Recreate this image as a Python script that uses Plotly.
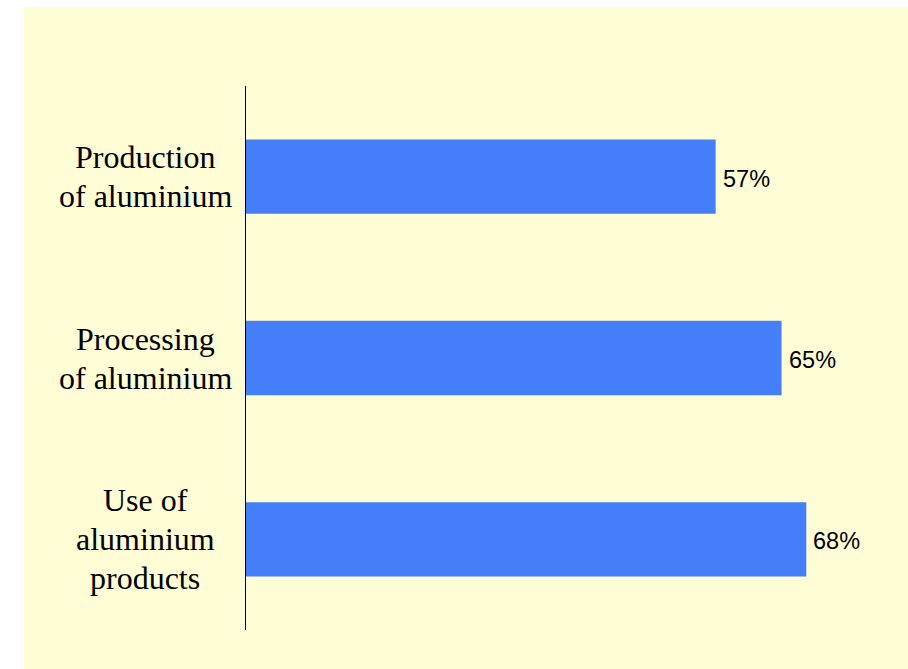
import plotly.graph_objects as go

# Shares per stage of the aluminium value chain
categories = ["Production<br>of aluminium", "Processing<br>of aluminium", "Use of<br>aluminium<br>products"]
shares = [57, 65, 68]
value_labels = ["57%", "65%", "68%"]

W, H = 908, 669
L, R, T, B = 246, 2, 86, 39
plot_w = W - L - R
plot_h = H - T - B

panel = "#FFFDD5"
bar_color = "#457EF9"
serif = "Liberation Serif, Times New Roman"
sans = "Liberation Sans, Arial"
line_gap = 39  # px between lines of a category label

fig = go.Figure(
    go.Bar(
        x=shares,
        y=categories,
        orientation="h",
        marker=dict(color=bar_color, line=dict(width=0)),
        cliponaxis=False,
        hoverinfo="x+y",
    )
)

# Value labels just beyond the bar ends
for cat, val, lab in zip(categories, shares, value_labels):
    fig.add_annotation(
        x=val, xref="x", xanchor="left", xshift=5,
        y=cat, yref="y", yanchor="middle", yshift=-2,
        text=lab, showarrow=False,
        font=dict(family=sans, size=23.5, color="black"),
    )

# Category labels, centred in the left margin, one annotation per line
for cat in categories:
    lines = cat.split("<br>")
    mid = (len(lines) - 1) / 2
    for i, line in enumerate(lines):
        fig.add_annotation(
            x=(145 - L) / plot_w, xref="paper", xanchor="center",
            y=cat, yref="y", yanchor="middle", yshift=(mid - i) * line_gap,
            text=line, showarrow=False,
            font=dict(family=serif, size=32, color="black"),
        )

# Pale yellow slide panel behind the chart
fig.add_shape(
    type="rect", xref="paper", yref="paper", layer="below",
    x0=(24 - L) / plot_w, x1=(W - L) / plot_w,
    y0=(plot_h - (H - T)) / plot_h, y1=(plot_h + T - 7) / plot_h,
    fillcolor=panel, line=dict(width=0),
)

fig.update_layout(
    width=W, height=H,
    margin=dict(l=L, r=R, t=T, b=B),
    paper_bgcolor="white",
    plot_bgcolor=panel,
    showlegend=False,
    bargap=0.59,
    xaxis=dict(range=[0, 80.1], visible=False, showgrid=False, zeroline=False),
    yaxis=dict(
        autorange="reversed", showticklabels=False, ticks="",
        showline=True, linecolor="black", linewidth=1.3,
        showgrid=False, zeroline=False,
    ),
)

fig.write_html("out.html")
